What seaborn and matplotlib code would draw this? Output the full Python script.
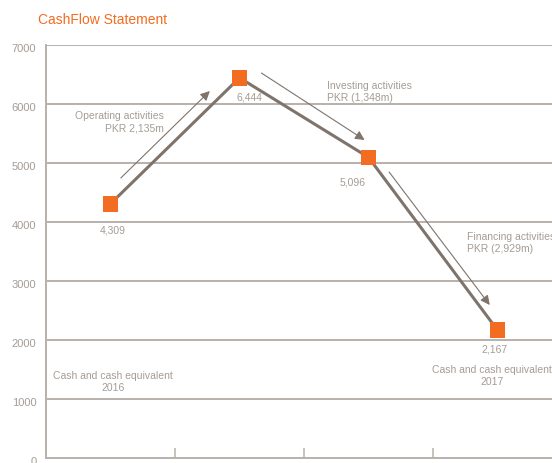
import matplotlib
matplotlib.use("Agg")
import matplotlib.pyplot as plt
import matplotlib.transforms as mtransforms
import seaborn as sns
import pandas as pd

steps = ["Opening 2016", "Operating", "Investing", "Closing 2017"]
balances = [4309, 6444, 5096, 2167]
value_labels = ["4,309", "6,444", "5,096", "2,167"]
yticks = [0, 1000, 2000, 3000, 4000, 5000, 6000, 7000]

flow_labels = ["Operating activities\nPKR 2,135m",
               "Investing activities\nPKR (1,348m)",
               "Financing activities\nPKR (2,929m)"]
end_labels = ["Cash and cash equivalent\n2016", "Cash and cash equivalent\n2017"]

ORANGE = "#f26d21"
LINE = "#7f746c"
GRID = "#b9b1ab"
TXT = "#a59c95"

sns.set_theme(style="white")
plt.rcParams['font.family'] = ['Liberation Sans', 'DejaVu Sans']

df = pd.DataFrame({"pos": range(len(steps)), "balance": balances})

fig = plt.figure(figsize=(5.52, 4.63), dpi=100)
ax = fig.add_axes([46/552, 5/463, 516/552, 413/463])

sns.lineplot(data=df, x="pos", y="balance", color=LINE, lw=2.2, ax=ax, zorder=3)
sns.scatterplot(data=df, x="pos", y="balance", marker="s", s=125, color=ORANGE,
                edgecolor="none", linewidth=0, ax=ax, zorder=4)

ax.set_xlim(-0.5, 3.5)
ax.set_ylim(0, 7000)
ax.set_yticks(yticks)
ax.set_yticklabels([str(v) for v in yticks])
ax.set_xticks([0.5, 1.5, 2.5])
ax.set_xticklabels([])
ax.set_xlabel("")
ax.set_ylabel("")
for v in yticks[1:]:
    ax.axhline(v, color=GRID, lw=1.4, zorder=1)
ax.tick_params(axis='x', direction='in', length=7.5, width=1.1, color=GRID, bottom=True)
ax.tick_params(axis='y', length=0, pad=7, labelsize=8, labelcolor=TXT)
shift = mtransforms.ScaledTranslation(0, -3/100, fig.dpi_scale_trans)
for lab in ax.get_yticklabels():
    lab.set_transform(lab.get_transform() + shift)
for s in ["top", "right"]:
    ax.spines[s].set_visible(False)
for s in ["left", "bottom"]:
    ax.spines[s].set_color(GRID)
    ax.spines[s].set_linewidth(1.4)

fig.text(38/552, 1 - 20/463, "CashFlow Statement", color=ORANGE, fontsize=10,
         ha="left", va="center")

# value labels
val_offsets = [(0.02, -450), (0.08, -330), (-0.12, -420), (-0.02, -330)]
for i, (lab, (dx, dy)) in enumerate(zip(value_labels, val_offsets)):
    ax.text(i + dx, balances[i] + dy, lab, ha="center", va="center", fontsize=7.5, color=TXT)

# flow arrows
arrows = [((0.08, 4746), (0.77, 6220)),
          ((1.17, 6525), (1.97, 5390)),
          ((2.16, 4847), (2.94, 2593))]
for (x0, y0), (x1, y1) in arrows:
    ax.annotate("", xy=(x1, y1), xytext=(x0, y0),
                arrowprops=dict(arrowstyle="-|>", color=LINE, lw=0.8,
                                mutation_scale=14, shrinkA=0, shrinkB=0), zorder=3)

ax.text(0.41, 5690, flow_labels[0], ha="right", va="center", fontsize=7.5,
        color=TXT, linespacing=1.3)
ax.text(1.68, 6200, flow_labels[1], ha="left", va="center", fontsize=7.5,
        color=TXT, linespacing=1.3)
ax.text(2.76, 3640, flow_labels[2], ha="left", va="center", fontsize=7.5,
        color=TXT, linespacing=1.3)

ax.text(0.02, 1290, end_labels[0], ha="center", va="center", fontsize=7.5,
        color=TXT, linespacing=1.3)
ax.text(2.96, 1390, end_labels[1], ha="center", va="center", fontsize=7.5,
        color=TXT, linespacing=1.3)

fig.savefig("out.png", dpi=100)
